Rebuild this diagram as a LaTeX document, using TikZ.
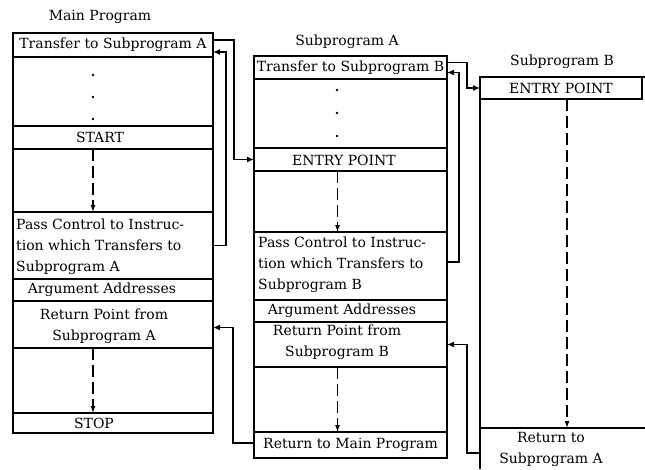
\documentclass[tikz,border=0pt]{standalone}
\usepackage{fontspec}
\setmainfont{DejaVu Serif}
\usetikzlibrary{arrows.meta,calc}
\begin{document}
\begin{tikzpicture}[x=1pt,y=-1pt,
  rowbox/.style={draw, line width=1.2pt, anchor=north west, inner sep=0pt, outer sep=0pt},
  outerbox/.style={draw, line width=2pt},
  txt/.style={inner sep=0pt, font=\fontsize{14}{21}\selectfont, align=center},
  ltxt/.style={inner sep=0pt, font=\fontsize{14}{21}\selectfont, align=left, anchor=west},
  conn/.style={line width=1.3pt, -{Latex[length=7pt,width=6pt]}},
  flow/.style={line width=1.3pt, dash pattern=on 12pt off 5pt, -{Latex[length=7pt,width=5pt]}},
  dotmark/.style={circle, fill, inner sep=0pt, minimum size=2.8pt}]
\useasboundingbox (0,0) rectangle (645,469);

% ---------------- Main Program ----------------
\node[txt] (tMain) at (100,17) {Main Program};
\node[rowbox, minimum width=200pt, minimum height=24pt] (mT) at (13,33) {};
\node[rowbox, minimum width=200pt, minimum height=69pt] (mD) at (13,57) {};
\node[rowbox, minimum width=200pt, minimum height=23pt] (mS) at (13,126) {};
\node[rowbox, minimum width=200pt, minimum height=63pt] (mB1) at (13,149) {};
\node[rowbox, minimum width=200pt, minimum height=67pt] (mP) at (13,212) {};
\node[rowbox, minimum width=200pt, minimum height=22pt] (mA) at (13,279) {};
\node[rowbox, minimum width=200pt, minimum height=47pt] (mR) at (13,301) {};
\node[rowbox, minimum width=200pt, minimum height=65pt] (mB2) at (13,348) {};
\node[rowbox, minimum width=200pt, minimum height=20pt] (mE) at (13,413) {};
\draw[outerbox] (mT.north west) rectangle (mE.south east);

\node[txt] (tmT) at (mT.center) {Transfer to Subprogram A};
\node[dotmark] (md1) at (93,75) {};
\node[dotmark] (md2) at (93,97) {};
\node[dotmark] (md3) at (93,119) {};
\node[txt] (tmS) at (100,137.5) {START};
\node[ltxt] (tmP) at ([xshift=3pt,yshift=-1.5pt]mP.west) {Pass Control to Instruc-\\tion which Transfers to\\Subprogram A};
\node[txt] (tmA) at (102,290) {Argument Addresses};
\node[txt] (tmR) at (104,326) {Return Point from\\Subprogram A};
\node[txt] (tmE) at (94,423) {STOP};

\draw[flow] ([xshift=-20pt]mS.south) -- ([xshift=-20pt]mP.north);
\draw[flow] ([xshift=-20pt]mR.south) -- ([xshift=-20pt]mE.north);

% ---------------- Subprogram A ----------------
\node[txt] (tSubA) at (347,42) {Subprogram A};
\node[rowbox, minimum width=193pt, minimum height=23pt] (aT) at (254,56) {};
\node[rowbox, minimum width=193pt, minimum height=69pt] (aD) at (254,79) {};
\node[rowbox, minimum width=193pt, minimum height=23pt] (aE) at (254,148) {};
\node[rowbox, minimum width=193pt, minimum height=61pt] (aB1) at (254,171) {};
\node[rowbox, minimum width=193pt, minimum height=68pt] (aP) at (254,232) {};
\node[rowbox, minimum width=193pt, minimum height=22pt] (aA) at (254,300) {};
\node[rowbox, minimum width=193pt, minimum height=45pt] (aR) at (254,322) {};
\node[rowbox, minimum width=193pt, minimum height=65pt] (aB2) at (254,367) {};
\node[rowbox, minimum width=193pt, minimum height=26pt] (aM) at (254,432) {};
\draw[outerbox] (aT.north west) rectangle (aM.south east);

\node[txt] (taT) at (aT.center) {Transfer to Subprogram B};
\node[dotmark] (ad1) at (337,90) {};
\node[dotmark] (ad2) at (337,113) {};
\node[dotmark] (ad3) at (337,136) {};
\node[txt] (taE) at (344,160) {ENTRY POINT};
\node[ltxt] (taP) at ([xshift=4pt,yshift=1pt]aP.west) {Pass Control to Instruc-\\tion which Transfers to\\Subprogram B};
\node[txt] (taA) at (342,311) {Argument Addresses};
\node[txt] (taR) at (337,342) {Return Point from\\Subprogram B};
\node[txt] (taM) at (aM.center) {Return to Main Program};

\draw[flow] ([xshift=-13pt]aE.south) -- ([xshift=-13pt]aP.north);
\draw[flow] ([xshift=-13pt]aR.south) -- ([xshift=-13pt]aM.north);

% ---------------- Subprogram B ----------------
\node[txt] (tSubB) at (562,62) {Subprogram B};
\node[rowbox, minimum width=162pt, minimum height=22pt] (bE) at (480,77) {};
\node[txt] (tbE) at (bE.center) {ENTRY POINT};
\coordinate (bTopR) at (645,77);
\coordinate (bBotL) at (480,469);
\coordinate (bLineL) at (480,428);
\coordinate (bLineR) at (645,428);
\coordinate (bFlowEnd) at (567,428);
\coordinate (bRet) at (480,453);
\draw[line width=2pt] (bE.north east) -- (bTopR);
\draw[line width=2pt] (bE.north west) -- (bBotL);
\draw[line width=1.3pt] (bLineL) -- (bLineR);
\node[txt] (tbR) at (551,449) {Return to\\Subprogram A};
\draw[flow] ([xshift=6pt]bE.south) -- (bFlowEnd);

% ---------------- Connectors ----------------
\draw[conn] ([yshift=5pt]mT.east) -- ++(21,0) |- (aE.west);
\draw[conn] (mP.east) -- ++(13,0) |- ([yshift=-7pt]mT.east);
\draw[conn] ([yshift=2pt]aM.west) -- ++(-21,0) |- ([yshift=-3pt]mR.east);
\draw[conn] ([yshift=5pt]aT.east) -- ++(20,0) |- (bE.west);
\draw[conn] ([yshift=4pt]aP.east) -- ++(12,0) |- ([yshift=-5pt]aT.east);
\draw[conn] (bRet) -- ++(-13,0) |- (aR.east);
\end{tikzpicture}
\end{document}
